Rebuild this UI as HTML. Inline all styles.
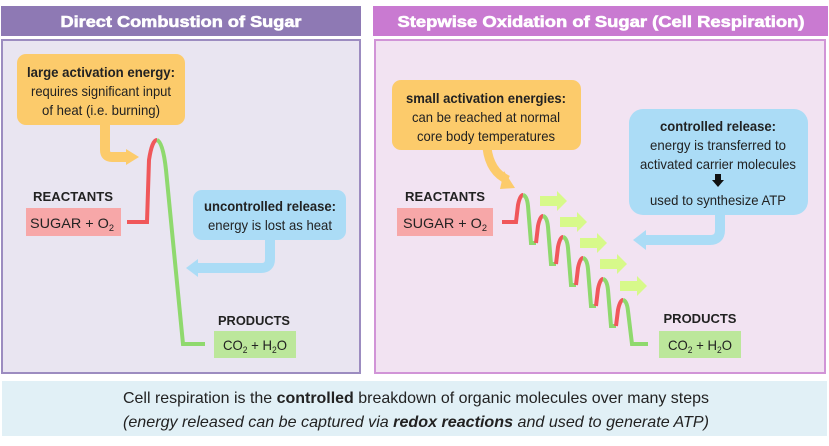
<!DOCTYPE html>
<html><head><meta charset="utf-8"><style>
html,body{margin:0;padding:0;background:#fff;width:829px;height:446px;overflow:hidden}
svg{display:block;font-family:"Liberation Sans",sans-serif}
</style></head><body>
<svg width="829" height="446" viewBox="0 0 829 446">
<!-- left -->
<rect x="1" y="6" width="360" height="30" fill="#8e79b4"/>
<text x="181" y="27" text-anchor="middle" font-size="16" font-weight="bold" fill="#fff" stroke="#fff" stroke-width="0.6" textLength="241" lengthAdjust="spacingAndGlyphs">Direct Combustion of Sugar</text>
<rect x="2" y="40" width="358" height="333" fill="#e9e5f1" stroke="#9c8cc0" stroke-width="2"/>
<!-- right -->
<rect x="373" y="6" width="455" height="30" fill="#c97ad1"/>
<text x="601" y="27" text-anchor="middle" font-size="16" font-weight="bold" fill="#fff" stroke="#fff" stroke-width="0.6" textLength="407" lengthAdjust="spacingAndGlyphs">Stepwise Oxidation of Sugar (Cell Respiration)</text>
<rect x="375" y="40" width="450" height="333" fill="#f2e3f2" stroke="#d194d7" stroke-width="2"/>
<!-- bottom -->
<rect x="2" y="381" width="825" height="55" fill="#e1f0f6"/>
<text x="416" y="403" text-anchor="middle" font-size="16" fill="#222" textLength="586" lengthAdjust="spacingAndGlyphs">Cell respiration is the <tspan font-weight="bold">controlled</tspan> breakdown of organic molecules over many steps</text>
<text x="416" y="427" text-anchor="middle" font-size="16" font-style="italic" fill="#222" textLength="586" lengthAdjust="spacingAndGlyphs">(energy released can be captured via <tspan font-weight="bold">redox reactions</tspan> and used to generate ATP)</text>

<g font-size="14" fill="#222" text-anchor="middle">
<path d="M105 122 L105 150 Q105 157 112 157 L128 157" fill="none" stroke="#fccb6b" stroke-width="10"/>
<polygon points="126,149 139,157 126,165" fill="#fccb6b"/>
<rect x="17" y="54" width="168" height="71" rx="9" fill="#fccb6b"/>
<text x="101" y="77" font-weight="bold" textLength="148" lengthAdjust="spacingAndGlyphs">large activation energy:</text>
<text x="101" y="96" textLength="140" lengthAdjust="spacingAndGlyphs">requires significant input</text>
<text x="101" y="115" textLength="118" lengthAdjust="spacingAndGlyphs">of heat (i.e. burning)</text>
<path d="M127 222 L147 222 L149 160 Q152 140 157 140" fill="none" stroke="#f0575a" stroke-width="4"/>
<path d="M157 140 Q163 142 166 170 L183 344 L205 344" fill="none" stroke="#8fd96e" stroke-width="4"/>
<text x="73" y="201" font-size="12.5" font-weight="bold" textLength="80" lengthAdjust="spacingAndGlyphs">REACTANTS</text>
<rect x="26" y="208" width="95" height="28" fill="#f7a7a8"/>
<text x="72" y="228" textLength="84" lengthAdjust="spacingAndGlyphs">SUGAR + O<tspan font-size="9" dy="3">2</tspan></text>
<path d="M270 238 L270 259 Q270 268 261 268 L196 268" fill="none" stroke="#abdcf6" stroke-width="10"/>
<polygon points="198,259 186,268 198,277" fill="#abdcf6"/>
<rect x="193" y="190" width="153" height="50" rx="9" fill="#abdcf6"/>
<text x="270" y="211" font-weight="bold" textLength="132" lengthAdjust="spacingAndGlyphs">uncontrolled release:</text>
<text x="270" y="230" textLength="124" lengthAdjust="spacingAndGlyphs">energy is lost as heat</text>
<text x="254" y="325" font-size="12.5" font-weight="bold" textLength="72" lengthAdjust="spacingAndGlyphs">PRODUCTS</text>
<rect x="214" y="331" width="82" height="27" fill="#bce79b"/>
<text x="255" y="350" textLength="64" lengthAdjust="spacingAndGlyphs">CO<tspan font-size="9" dy="3">2</tspan><tspan dy="-3"> + H</tspan><tspan font-size="9" dy="3">2</tspan><tspan dy="-3">O</tspan></text>

<path d="M487 148 Q490 172 508 180" fill="none" stroke="#fccb6b" stroke-width="9"/>
<polygon points="504,171 515,188 500,189" fill="#fccb6b"/>
<rect x="392" y="80" width="189" height="70" rx="9" fill="#fccb6b"/>
<text x="486" y="103" font-weight="bold" textLength="160" lengthAdjust="spacingAndGlyphs">small activation energies:</text>
<text x="486" y="122" textLength="148" lengthAdjust="spacingAndGlyphs">can be reached at normal</text>
<text x="486" y="141" textLength="138" lengthAdjust="spacingAndGlyphs">core body temperatures</text>
<path d="M720 212 L720 230 Q720 240 710 240 L645 240" fill="none" stroke="#abdcf6" stroke-width="10"/>
<polygon points="646,230 633,240 646,250" fill="#abdcf6"/>
<rect x="629" y="109" width="179" height="106" rx="14" fill="#abdcf6"/>
<text x="718" y="131" font-weight="bold" textLength="116" lengthAdjust="spacingAndGlyphs">controlled release:</text>
<text x="718" y="150" textLength="136" lengthAdjust="spacingAndGlyphs">energy is transferred to</text>
<text x="718" y="169" textLength="156" lengthAdjust="spacingAndGlyphs">activated carrier molecules</text>
<polygon points="715,174 721,174 721,180 724,180 718,187 712,180 715,180" fill="#111"/>
<text x="718" y="205" textLength="136" lengthAdjust="spacingAndGlyphs">used to synthesize ATP</text>
<text x="445" y="201" font-size="12.5" font-weight="bold" textLength="80" lengthAdjust="spacingAndGlyphs">REACTANTS</text>
<rect x="397" y="208" width="96" height="28" fill="#f7a7a8"/>
<text x="445" y="228" textLength="84" lengthAdjust="spacingAndGlyphs">SUGAR + O<tspan font-size="9" dy="3">2</tspan></text>
<text x="700" y="323" font-size="12.5" font-weight="bold" textLength="73" lengthAdjust="spacingAndGlyphs">PRODUCTS</text>
<rect x="659" y="331" width="82" height="27" fill="#bce79b"/>
<text x="700" y="350" textLength="64" lengthAdjust="spacingAndGlyphs">CO<tspan font-size="9" dy="3">2</tspan><tspan dy="-3"> + H</tspan><tspan font-size="9" dy="3">2</tspan><tspan dy="-3">O</tspan></text>
</g>
<g fill="#d7f98a">
<polygon points="540,196 557,196 557,191 567,201 557,211 557,206 540,206"/>
<polygon points="560,217 577,217 577,212 587,222 577,232 577,227 560,227"/>
<polygon points="580,238 597,238 597,233 607,243 597,253 597,248 580,248"/>
<polygon points="600,259 617,259 617,254 627,264 617,274 617,269 600,269"/>
<polygon points="620,281 637,281 637,276 647,286 637,296 637,291 620,291"/>
</g>
<g fill="none" stroke-width="4">
<path d="M502 222 L516 222 L518 205 Q520 195 523 195" stroke="#f0575a"/>
<path d="M523 195 Q527 196 528 206 L531 243 L536 243" stroke="#8fd96e"/>
<path d="M536 243 L538 226 Q540 216 543 216" stroke="#f0575a"/>
<path d="M543 216 Q547 217 548 227 L551 264 L556 264" stroke="#8fd96e"/>
<path d="M556 264 L558 247 Q560 237 563 237" stroke="#f0575a"/>
<path d="M563 237 Q567 238 568 248 L571 285 L576 285" stroke="#8fd96e"/>
<path d="M576 285 L578 268 Q580 258 583 258" stroke="#f0575a"/>
<path d="M583 258 Q587 259 588 269 L591 306 L596 306" stroke="#8fd96e"/>
<path d="M596 306 L598 289 Q600 279 603 279" stroke="#f0575a"/>
<path d="M603 279 Q607 280 608 290 L611 326 L616 326" stroke="#8fd96e"/>
<path d="M616 326 L618 310 Q620 300 623 300" stroke="#f0575a"/>
<path d="M623 300 Q627 301 628 311 L632 344 L648 344" stroke="#8fd96e"/>
</g>
</svg>
</body></html>
